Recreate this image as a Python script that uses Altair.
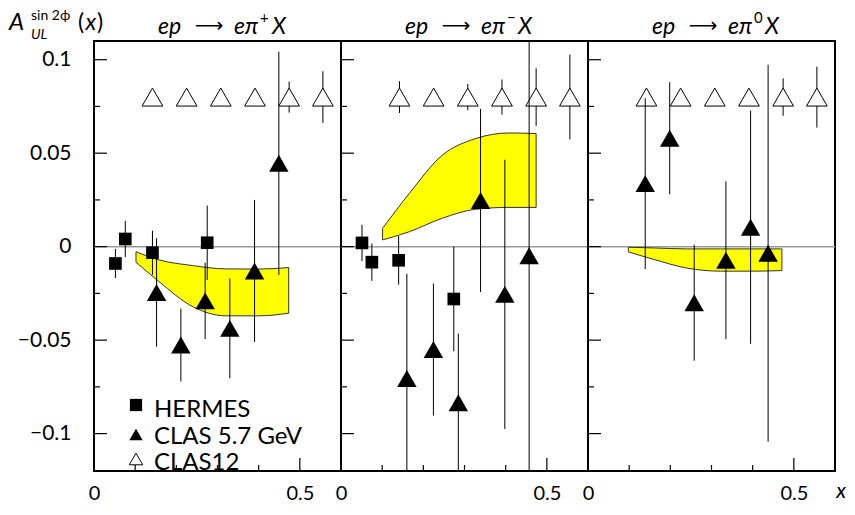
import altair as alt
import pandas as pd

# ---------------- data ----------------
title_main = ["ep", "⟶", "eπ"]
title_sup = ["+", "−", "0"]
title_end = "X"

hermes_x = [[0.052, 0.076, 0.142, 0.275], [0.051, 0.075, 0.140, 0.274], []]
hermes_y = [[-0.009, 0.0041, -0.0032, 0.0021], [0.002, -0.0083, -0.0073, -0.028], []]
hermes_err = [[0.0078, 0.0097, 0.0118, 0.0199], [0.0097, 0.010, 0.013, 0.028], []]

clas_x = [[0.152, 0.211, 0.270, 0.330, 0.390, 0.449],
          [0.160, 0.2245, 0.285, 0.339, 0.398, 0.457],
          [0.139, 0.1985, 0.258, 0.335, 0.395, 0.4375]]
clas_y = [[-0.0245, -0.0526, -0.029, -0.0437, -0.013, 0.0446],
          [-0.0705, -0.055, -0.0835, 0.0247, -0.0255, -0.0049],
          [0.0337, 0.058, -0.030, -0.0073, 0.0104, -0.0035]]
clas_err = [[0.029, 0.0195, 0.0204, 0.0267, 0.038, 0.0597],
            [0.056, 0.0353, 0.037, 0.049, 0.072, 0.13],
            [0.0457, 0.030, 0.031, 0.0422, 0.0624, 0.1008]]

clas12_x = [0.142, 0.225, 0.308, 0.391, 0.474, 0.556]
clas12_y = [0.08, 0.08, 0.08, 0.08, 0.08, 0.08]
clas12_err = [[0.004, 0.004, 0.004, 0.004, 0.0083, 0.0138],
              [0.0085, 0.003, 0.007, 0.0094, 0.0154, 0.0227],
              [0.004, 0.004, 0.004, 0.004, 0.010, 0.0163]]

band_x = [[0.102, 0.158, 0.239, 0.320, 0.401, 0.473],
          [0.101, 0.166, 0.246, 0.327, 0.408, 0.474],
          [0.098, 0.161, 0.241, 0.322, 0.404, 0.471]]
band_lo = [[-0.0083, -0.0187, -0.032, -0.037, -0.037, -0.0356],
           [0.0036, 0.008, 0.0152, 0.020, 0.021, 0.021],
           [-0.0028, -0.0069, -0.0115, -0.0131, -0.0131, -0.0128]]
band_hi = [[-0.0027, -0.0071, -0.0101, -0.0119, -0.012, -0.0112],
           [0.0098, 0.0285, 0.0489, 0.0578, 0.0608, 0.0605],
           [-0.0003, -0.0007, -0.0012, -0.0012, -0.0012, -0.0012]]

y_labels = [0.1, 0.05, 0, -0.05, -0.1]
y_major = [0.1, 0.05, 0, -0.05, -0.1]
y_minor = [0.075, 0.025, -0.025, -0.075]
x_labels = [0, 0.5]
x_major = [0.5]
x_minor = [0.1, 0.2, 0.3, 0.4]

legend_labels = ["HERMES", "CLAS 5.7 GeV", "CLAS12"]

# ---------------- chart ----------------
FONT = "Lato"
W, H = 247, 430
xscale = alt.Scale(domain=[0, 0.6], nice=False, zero=False)
yscale = alt.Scale(domain=[-0.12, 0.11], nice=False, zero=False)


def text_layer(txt, x, y, size, align="left", baseline="alphabetic", style="normal", font=FONT):
    return alt.Chart(pd.DataFrame({"t": [txt]})).mark_text(
        font=font, fontSize=size, align=align, baseline=baseline,
        fontStyle=style, color="black"
    ).encode(text="t:N", x=alt.value(x), y=alt.value(y))


def panel(i):
    if i == 0:
        yax = alt.Axis(values=y_labels, format="~g", ticks=False, domain=False, grid=False,
                       labelFont=FONT, labelFontSize=21, labelPadding=23,
                       labelColor="black", title=None)
    else:
        yax = None
    xax = alt.Axis(values=x_labels, format="~g", ticks=False, domain=False, grid=False,
                   labelFont=FONT, labelFontSize=20, labelPadding=12, labelFlush=False,
                   labelColor="black", title=None)

    def X(f):
        return alt.X(f, type="quantitative", scale=xscale, axis=xax)

    def Y(f):
        return alt.Y(f, type="quantitative", scale=yscale, axis=yax)

    layers = []

    # zero line
    layers.append(alt.Chart(pd.DataFrame({"v": [0]})).mark_rule(
        color="#9a9a9a", strokeWidth=1.5).encode(y=Y("v")))

    # band
    bdf = pd.DataFrame({"x": band_x[i], "lo": band_lo[i], "hi": band_hi[i]})
    layers.append(alt.Chart(bdf).mark_area(
        fill="#ffff00", stroke="#333333", strokeWidth=1, opacity=1,
        interpolate="monotone", clip=True).encode(x=X("x"), y=Y("lo"), y2="hi:Q"))

    # ticks (pointing inward)
    layers.append(alt.Chart(pd.DataFrame({"v": y_major})).mark_rule(
        color="black", strokeWidth=1.2).encode(y=Y("v"), x=alt.value(0), x2=alt.value(13)))
    layers.append(alt.Chart(pd.DataFrame({"v": y_minor})).mark_rule(
        color="black", strokeWidth=1.2).encode(y=Y("v"), x=alt.value(0), x2=alt.value(6)))
    layers.append(alt.Chart(pd.DataFrame({"v": x_major})).mark_rule(
        color="black", strokeWidth=1.2).encode(x=X("v"), y=alt.value(H), y2=alt.value(H - 13)))
    layers.append(alt.Chart(pd.DataFrame({"v": x_minor})).mark_rule(
        color="black", strokeWidth=1.2).encode(x=X("v"), y=alt.value(H), y2=alt.value(H - 6)))

    # data sets
    sets = [
        (clas12_x, clas12_y, clas12_err[i], dict(shape="triangle-up", size=430, filled=True,
                                                 fill="white", stroke="black", strokeWidth=1, opacity=1)),
        (hermes_x[i], hermes_y[i], hermes_err[i], dict(shape="square", size=160, filled=True,
                                                       color="black", opacity=1)),
        (clas_x[i], clas_y[i], clas_err[i], dict(shape="triangle-up", size=380, filled=True,
                                                 color="black", opacity=1)),
    ]
    for xs, ys, es, style in sets:
        if len(xs) == 0:
            continue
        df = pd.DataFrame({"x": xs, "y": ys, "err": es})
        layers.append(alt.Chart(df).transform_calculate(
            lo="datum.y - datum.err", hi="datum.y + datum.err"
        ).mark_rule(color="black", strokeWidth=1, clip=True).encode(
            x=X("x"), y=Y("lo:Q"), y2="hi:Q"))
        layers.append(alt.Chart(df).mark_point(**style).encode(x=X("x"), y=Y("y")))

    # panel title  e p -> e pi^{sup} X
    layers.append(text_layer(title_main[0], 64, -7.5, 23, style="italic"))
    layers.append(text_layer(title_main[1], 115, -9, 20, align="center", font="DejaVu Sans"))
    layers.append(text_layer(title_main[2], 140, -7.5, 23, style="italic"))
    layers.append(text_layer(title_sup[i], 166, -18, 15))
    x_end = [178, 177, 177][i]
    layers.append(text_layer(title_end, x_end, -7.5, 23, style="italic"))

    if i == 0:
        # legend
        layers.append(alt.Chart(pd.DataFrame({"a": [0]})).mark_point(
            shape="square", size=150, filled=True, color="black", opacity=1).encode(
            x=alt.value(42), y=alt.value(364)))
        layers.append(alt.Chart(pd.DataFrame({"a": [0]})).mark_point(
            shape="triangle-up", size=180, filled=True, color="black", opacity=1).encode(
            x=alt.value(42), y=alt.value(393.5)))
        layers.append(alt.Chart(pd.DataFrame({"a": [0]})).mark_point(
            shape="triangle-up", size=180, filled=True, fill="white", stroke="black",
            strokeWidth=1, opacity=1).encode(x=alt.value(42), y=alt.value(418)))
        layers.append(text_layer(legend_labels[0], 60, 375.5, 24))
        layers.append(text_layer(legend_labels[1], 60, 402.5, 24))
        layers.append(text_layer(legend_labels[2], 60, 429, 24))
        # y-axis title  A_UL^{sin 2phi}(x)
        layers.append(text_layer("A", -85, -11.5, 24, style="italic"))
        layers.append(text_layer("UL", -63, -2, 14, style="italic"))
        layers.append(text_layer("sin 2ϕ", -63, -21, 14))
        layers.append(text_layer("(", -16, -11.5, 23))
        layers.append(text_layer("x", -8.5, -11.5, 23, style="italic"))
        layers.append(text_layer(")", 3, -11.5, 23))
    if i == 2:
        layers.append(text_layer("x", 253, 457, 21, align="center", style="italic"))

    return alt.layer(*layers).properties(width=W, height=H)


chart = alt.hconcat(
    panel(0), panel(1), panel(2), spacing=0, bounds="flush",
    padding={"left": 0, "top": 0, "right": 0, "bottom": 0},
).configure_view(stroke="black", strokeWidth=2).properties(background="white")

chart.save("out.html", embed_options={"renderer": "svg", "actions": False})
